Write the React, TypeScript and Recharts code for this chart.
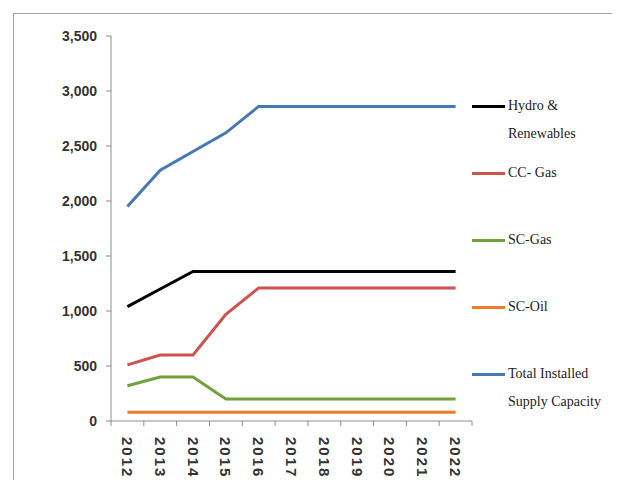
import { LineChart, Line, XAxis, YAxis } from 'recharts';

const years = [2012, 2013, 2014, 2015, 2016, 2017, 2018, 2019, 2020, 2021, 2022];
const hydro = [1040, 1200, 1360, 1360, 1360, 1360, 1360, 1360, 1360, 1360, 1360];
const ccGas = [510, 600, 600, 970, 1210, 1210, 1210, 1210, 1210, 1210, 1210];
const scGas = [320, 400, 400, 200, 200, 200, 200, 200, 200, 200, 200];
const scOil = [80, 80, 80, 80, 80, 80, 80, 80, 80, 80, 80];
const total = [1950, 2280, 2450, 2620, 2860, 2860, 2860, 2860, 2860, 2860, 2860];
const yTicks = [0, 500, 1000, 1500, 2000, 2500, 3000, 3500];

const data = years.map((year, i) => ({
  year,
  hydro: hydro[i],
  ccGas: ccGas[i],
  scGas: scGas[i],
  scOil: scOil[i],
  total: total[i],
}));

// labels at the years, tick marks half way between them (Excel style)
const xTicks = [years[0] - 0.5, ...years.flatMap((y) => [y, y + 0.5])];

const series = [
  { key: 'hydro', name: 'Hydro & Renewables', color: '#000000' },
  { key: 'ccGas', name: 'CC- Gas', color: '#CF5150' },
  { key: 'scGas', name: 'SC-Gas', color: '#72A03C' },
  { key: 'scOil', name: 'SC-Oil', color: '#F07C24' },
  { key: 'total', name: 'Total Installed Supply Capacity', color: '#4678B4' },
];

const axisGrey = '#8c8c8c';
const legendFont = '"Liberation Serif", serif';
const tickFont = '"Liberation Sans Narrow", "Liberation Sans", sans-serif';

const YearTick = (props: any) => {
  const { x, y, payload } = props;
  const v = payload.value;
  if (Number.isInteger(v)) {
    const ty = y + 16;
    return (
      <text
        x={x}
        y={ty}
        transform={`rotate(90, ${x}, ${ty})`}
        textAnchor="start"
        dominantBaseline="central"
        fontFamily={tickFont}
        fontWeight="bold"
        fontSize={15}
        letterSpacing={2}
        fill="#333"
      >
        {v}
      </text>
    );
  }
  return <line x1={x} y1={y} x2={x} y2={y + 5} stroke={axisGrey} />;
};

function SideLegend() {
  return (
    <div style={{ position: 'absolute', left: 472, top: 92, width: 148 }}>
      {series.map((s) => (
        <div key={s.key} style={{ display: 'flex', alignItems: 'flex-start', height: 67 }}>
          <div style={{ width: 33, height: 3, marginTop: 13, background: s.color, flexShrink: 0 }} />
          <div
            style={{
              width: 100,
              marginLeft: 3,
              fontFamily: legendFont,
              fontSize: 14,
              lineHeight: '28px',
              color: '#222',
            }}
          >
            {s.name}
          </div>
        </div>
      ))}
    </div>
  );
}

export default function App() {
  return (
    <div style={{ position: 'relative', margin: '-8px 0 0 -8px', width: 620, height: 480, overflow: 'hidden', background: '#fff' }}>
      <div
        style={{
          position: 'absolute',
          left: 13,
          top: 13,
          width: 600,
          height: 520,
          border: '1px solid #a3a3a3',
        }}
      />
      <div style={{ position: 'absolute', left: 0, top: 0 }}>
        <LineChart width={620} height={510} data={data} margin={{ top: 36, right: 148, left: 51, bottom: 39 }}>
          <XAxis
            dataKey="year"
            type="number"
            domain={[years[0] - 0.5, years[years.length - 1] + 0.5]}
            ticks={xTicks}
            interval={0}
            tick={<YearTick />}
            tickLine={false}
            tickSize={0}
            tickMargin={0}
            height={50}
            axisLine={{ stroke: axisGrey }}
          />
          <YAxis
            domain={[0, 3500]}
            ticks={yTicks}
            interval={0}
            width={60}
            tickSize={5}
            tickMargin={9}
            axisLine={{ stroke: axisGrey }}
            tickLine={{ stroke: axisGrey }}
            tickFormatter={(v: number) => v.toLocaleString('en-US')}
            tick={{ fontFamily: tickFont, fontWeight: 'bold', fontSize: 14, fill: '#333' }}
          />
          {series.map((s) => (
            <Line
              key={s.key}
              type="linear"
              dataKey={s.key}
              name={s.name}
              stroke={s.color}
              strokeWidth={3}
              dot={false}
              activeDot={false}
              isAnimationActive={false}
            />
          ))}
        </LineChart>
      </div>
      <SideLegend />
    </div>
  );
}
